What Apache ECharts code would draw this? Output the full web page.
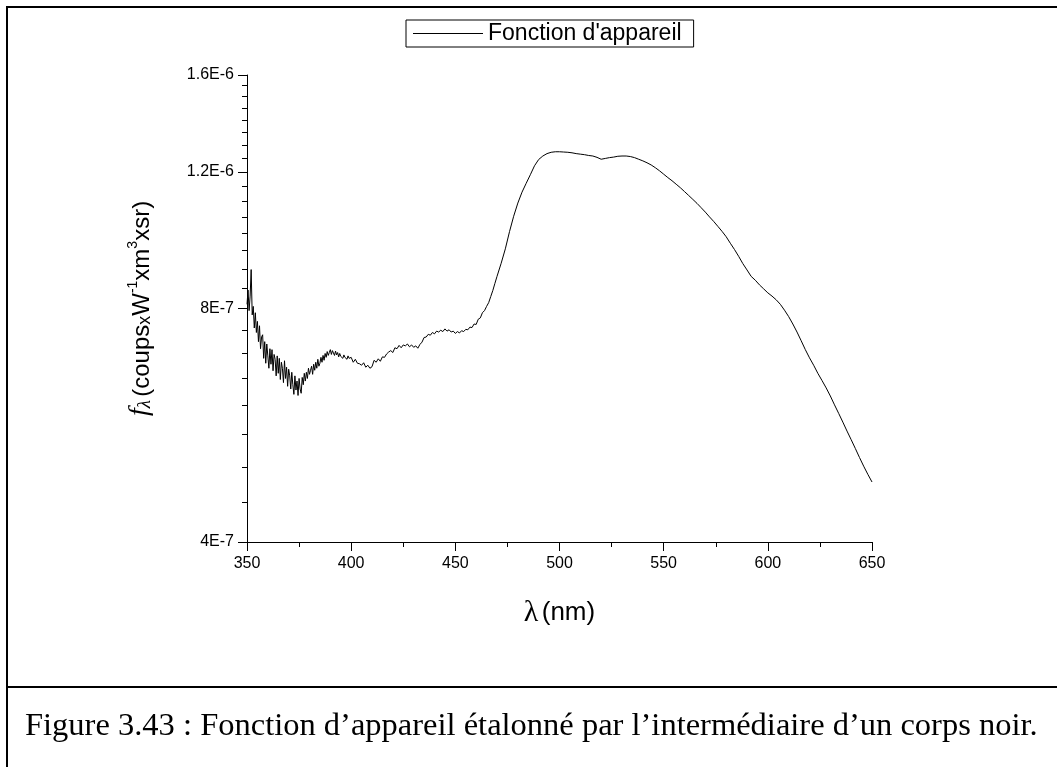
<!DOCTYPE html>
<html><head><meta charset="utf-8">
<script src="https://cdn.jsdelivr.net/npm/echarts@6/dist/echarts.min.js"></script>
<style>html,body{margin:0;padding:0;background:#fff}#c{width:1057px;height:767px}</style>
</head><body><div id="c"></div>
<script>
// Wavelengths (nm)
const wavelengths = [
350,350.5,351,351.5,352,352.5,353,353.5,354,354.5,
355,355.5,356,356.5,357,357.5,358,358.5,359,359.5,
360,360.5,361,361.5,362,362.5,363,363.5,364,364.5,
365,365.5,366,366.5,367,367.5,368,368.5,369,369.5,
370,370.5,371,371.5,372,372.5,373,373.5,374,374.5,
375,375.5,376,376.5,377,377.5,378,378.5,379,379.5,
380,380.5,381,381.5,382,382.5,383,383.5,384,384.5,
385,385.5,386,386.5,387,387.5,388,388.5,389,389.5,
390,390.5,391,391.5,392,392.5,393,393.5,394,394.5,
395,395.5,396,396.5,397,397.5,398,398.5,399,399.5,
400,
401,402,403,404,405,406,407,408,409,410,
411,412,413,414,415,416,417,418,419,420,
421,422,423,424,425,426,427,428,429,430,
431,432,433,434,435,436,437,438,439,440,
441,442,443,444,445,446,447,448,449,450,
451,452,453,454,455,456,457,458,459,460,
461,462,463,464,465,466,467,468,469,470,
472,474,476,478,480,482,484,486,488,490,
492,494,496,498,500,502,504,506,508,510,
512,514,516,518,520,522,524,526,528,530,
532,534,536,538,540,542,544,546,548,550,
552,554,556,558,560,562,564,566,568,570,
572,574,576,578,580,582,584,586,588,590,
592,594,596,598,600,602,604,606,608,610,
612,614,616,618,620,622,624,626,628,630,
632,634,636,638,640,642,644,646,648,650];
// Instrument function values, in units of 1E-7
const values = [
8.10,8.45,7.95,8.30,8.98,7.85,8.05,7.55,7.90,7.45,
7.70,7.25,7.60,7.10,7.35,7.40,6.90,7.25,6.80,7.20,
6.95,6.70,7.10,6.78,7.08,6.65,6.98,6.88,6.55,6.95,
6.60,6.90,6.48,6.82,6.70,6.42,6.85,6.50,6.72,6.35,
6.68,6.55,6.30,6.62,6.38,6.20,6.55,6.28,6.45,6.18,
6.50,6.30,6.22,6.52,6.38,6.60,6.45,6.62,6.50,6.70,
6.58,6.66,6.74,6.58,6.78,6.66,6.82,6.70,6.88,6.74,
6.80,6.92,6.82,6.96,6.86,7.00,6.92,7.04,6.96,7.02,
7.08,6.98,7.06,7.01,6.96,7.05,6.97,7.02,6.93,7.00,
6.94,6.98,6.90,6.97,6.92,6.96,6.88,6.95,6.90,6.86,
6.92,
6.82,6.88,6.80,6.79,6.76,6.81,6.72,6.76,6.70,6.73,
6.86,6.82,6.89,6.84,6.93,6.92,6.99,7.03,7.06,7.02,
7.12,7.10,7.17,7.12,7.18,7.16,7.20,7.14,7.18,7.13,
7.16,7.11,7.19,7.24,7.34,7.35,7.41,7.39,7.45,7.42,
7.48,7.46,7.50,7.47,7.53,7.48,7.51,7.46,7.48,7.43,
7.47,7.44,7.49,7.47,7.52,7.51,7.57,7.56,7.64,7.63,
7.75,7.78,7.90,7.95,8.05,8.14,8.29,8.44,8.62,8.80,
9.15,9.55,10.05,10.52,10.94,11.30,11.60,11.90,12.22,12.45,
12.58,12.67,12.72,12.74,12.74,12.73,12.72,12.70,12.67,12.65,
12.63,12.60,12.58,12.53,12.46,12.49,12.52,12.54,12.57,12.58,
12.58,12.56,12.52,12.46,12.40,12.33,12.25,12.15,12.04,11.92,
11.80,11.69,11.57,11.45,11.32,11.19,11.06,10.93,10.79,10.65,
10.50,10.36,10.21,10.06,9.90,9.71,9.53,9.34,9.14,8.97,
8.80,8.70,8.58,8.48,8.38,8.30,8.21,8.10,7.96,7.81,
7.64,7.46,7.27,7.08,6.91,6.76,6.60,6.46,6.32,6.17,
6.01,5.86,5.71,5.56,5.42,5.28,5.14,5.01,4.89,4.78];
const seriesName = "Fonction d'appareil";
const yTickValues = [4e-7, 8e-7, 1.2e-6, 1.6e-6];
const yTickLabels = ['4E-7', '8E-7', '1.2E-6', '1.6E-6'];
const yMinorValues = [4.5e-7,5e-7,5.5e-7,6e-7,6.5e-7,7e-7,7.5e-7,8.5e-7,9e-7,9.5e-7,1e-6,1.05e-6,1.1e-6,1.15e-6,1.25e-6,1.3e-6,1.35e-6,1.4e-6,1.45e-6,1.5e-6,1.55e-6];
const caption = "Figure 3.43 : Fonction d\u2019appareil \u00e9talonn\u00e9 par l\u2019interm\u00e9diaire d\u2019un corps noir.";

const chart = echarts.init(document.getElementById('c'), null, {renderer: 'canvas'});
const sans = "'Liberation Sans', Arial, sans-serif";
const serif = "'Liberation Serif', 'Times New Roman', serif";
const data = wavelengths.map((w, i) => [w, values[i] * 1e-7]);

chart.setOption({
  animation: false,
  backgroundColor: '#fff',
  grid: {left: 247, right: 185, top: 75, bottom: 225, containLabel: false},
  legend: {
    left: 406, top: 20,
    padding: [2, 12, 2, 7],
    borderColor: '#000', borderWidth: 1, borderRadius: 0,
    icon: 'rect', itemWidth: 70, itemHeight: 1,
    itemStyle: {color: '#000'},
    textStyle: {fontSize: 23, color: '#000', fontFamily: sans},
    data: [seriesName]
  },
  xAxis: {
    type: 'value', min: 350, max: 650, interval: 50,
    name: '{l|\u03bb} {t|(nm)}', nameLocation: 'middle', nameGap: 56, nameMoveOverlap: false,
    nameTextStyle: {color: '#000', rich: {
      l: {fontSize: 30, fontFamily: serif, color: '#000'},
      t: {fontSize: 26, fontFamily: sans, color: '#000'}
    }},
    axisLine: {show: true, onZero: false, lineStyle: {color: '#000', width: 1}},
    axisTick: {show: true, inside: false, length: 9, lineStyle: {color: '#000', width: 1}},
    minorTick: {show: true, splitNumber: 2, length: 5, lineStyle: {color: '#000', width: 1}},
    axisLabel: {color: '#000', fontSize: 16, fontFamily: sans, margin: 14, showMinLabel: true, showMaxLabel: true},
    splitLine: {show: false}, minorSplitLine: {show: false}
  },
  yAxis: [{
    type: 'log', logBase: 10, min: 4e-7, max: 1.6e-6,
    name: '{f|f}{l|\u03bb} {t|(coups}{x|x}{t|W}{s|-1}{t|xm}{s|3}{t|xsr)}',
    nameLocation: 'middle', nameGap: 93, nameRotate: 90, nameMoveOverlap: false,
    nameTextStyle: {color: '#000', rich: {
      f: {fontSize: 28, fontFamily: serif, fontStyle: 'italic', color: '#000', verticalAlign: 'bottom'},
      l: {fontSize: 19, fontFamily: serif, fontStyle: 'italic', color: '#000', verticalAlign: 'bottom'},
      t: {fontSize: 24, fontFamily: sans, color: '#000', verticalAlign: 'bottom'},
      x: {fontSize: 18, fontFamily: sans, color: '#000', verticalAlign: 'bottom'},
      s: {fontSize: 14, fontFamily: sans, color: '#000', verticalAlign: 'top'}
    }},
    axisLine: {show: true, lineStyle: {color: '#000', width: 1}},
    axisTick: {show: true, inside: false, length: 9, customValues: yTickValues, lineStyle: {color: '#000', width: 1}},
    axisLabel: {color: '#000', fontSize: 16, fontFamily: sans, margin: 13, customValues: yTickValues,
      formatter: function (v) {
        const i = yTickValues.findIndex(t => Math.abs(t - v) / t < 1e-6);
        return i >= 0 ? yTickLabels[i] : '';
      }},
    splitLine: {show: false}
  }, {
    type: 'log', logBase: 10, min: 4e-7, max: 1.6e-6, position: 'left',
    axisLine: {show: false},
    axisTick: {show: true, inside: false, length: 5, customValues: yMinorValues, lineStyle: {color: '#000', width: 1}},
    axisLabel: {show: false},
    splitLine: {show: false}
  }],
  series: [{
    name: seriesName, type: 'line', data: data, yAxisIndex: 0,
    showSymbol: false, symbol: 'none',
    lineStyle: {color: '#000', width: 1}, itemStyle: {color: '#000'}
  }],
  graphic: [
    {type: 'rect', shape: {x: 7, y: 7, width: 1060, height: 780}, style: {fill: 'none', stroke: '#000', lineWidth: 2}, silent: true},
    {type: 'line', shape: {x1: 7, y1: 687, x2: 1057, y2: 687}, style: {stroke: '#000', lineWidth: 2}, silent: true},
    {type: 'text', x: 25, y: 726, style: {text: caption, font: "32.5px 'Liberation Serif', 'Times New Roman', serif", fill: '#000', verticalAlign: 'middle'}, silent: true}
  ]
});
</script></body></html>
